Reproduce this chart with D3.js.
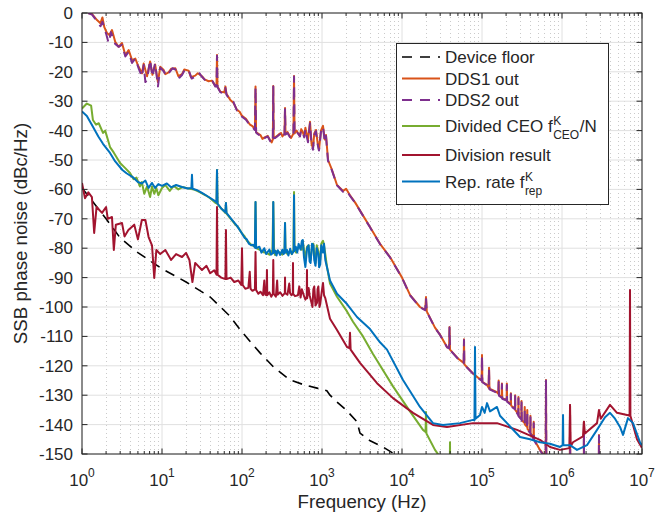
<!DOCTYPE html>
<html>
<head>
<meta charset="utf-8">
<script src="https://cdn.jsdelivr.net/npm/d3@7"></script>
<style>
	body { margin: 0; background: #fff; }
	text { font-family: "Liberation Sans", Arial, Helvetica, sans-serif; fill: #262626; }
</style>
</head>
<body>
<div class="container"></div>
<script>
// axis ranges and ticks
var freqDomain = [1, 1e7];
var dbDomain = [-150, 0];
var decadeTicks = [1, 10, 100, 1e3, 1e4, 1e5, 1e6, 1e7];
var decadeLabels = ["0", "1", "2", "3", "4", "5", "6", "7"];
var dbTicks = [-150, -140, -130, -120, -110, -100, -90, -80, -70, -60, -50, -40, -30, -20, -10, 0];

// series, [frequency Hz, dBc/Hz]
var deviceFloor = [[1,-59.5],[2,-70],[3,-76.5],[5,-81.5],[10,-87],[20,-91.5],[40,-96.6],[70,-103],[100,-108.5],[168,-115.6],[250,-120.5],[398,-124.8],[600,-126.5],[866,-127.6],[1000,-128],[1150,-128.5],[1259,-130],[1540,-132.3],[2000,-135],[2738,-139],[2985,-142.9],[4000,-145.5],[5788,-147.6],[7718,-149.7],[10000,-152]];

var dds1 = [[1.19,0],[1.33,-0.3],[1.54,-2.4],[1.7,-3.5],[1.8,-1.5],[1.9,-4.8],[2.05,-6.8],[2.2,-7.5],[2.37,-5.8],[2.6,-9.8],[2.87,-11.5],[3.16,-10.2],[3.48,-14.3],[3.83,-12.6],[4.22,-16],[4.64,-15.5],[5.1,-18.3],[5.62,-20.5],[5.9,-17.2],[6.5,-21.5],[7.1,-16.5],[7.6,-21],[8.2,-17.5],[8.9,-23.5],[9.5,-18.3],[10.5,-19.4],[11,-20.8],[12.1,-20.2],[13,-19],[14.7,-18.8],[16,-21.5],[17.8,-20.8],[19,-19.2],[21.5,-19.6],[23,-21.8],[26,-21.3],[28,-20.5],[31.6,-21.5],[34,-22.6],[38.3,-23.2],[42,-23],[46.4,-24.8],[48,-24.8],[48.7,-14.3],[49.4,-25],[53.7,-26.8],[60,-27],[62,-25],[64,-27.5],[71.5,-29.6],[78,-30.5],[86.6,-33],[93,-33.5],[100,-35],[112,-36],[126,-38],[135,-38.5],[145,-39.5],[147.6,-25],[150,-40.5],[154,-40.8],[170,-41.5],[180,-42.8],[194,-42.2],[210,-41.8],[224,-43.2],[235,-44],[243,-43],[246,-24.8],[249,-42.5],[260,-42.3],[275,-41.8],[290,-41.2],[309,-40.8],[320,-42],[340,-41],[345,-32.3],[350,-41.2],[370,-40.5],[389,-41.5],[410,-42.5],[440,-41],[447,-21.4],[454,-41],[480,-40],[501,-40.8],[530,-41.8],[550,-39.5],[575,-40.5],[600,-42],[620,-39],[668,-43.2],[708,-37],[740,-44.5],[771,-46],[800,-41],[841,-39.8],[880,-44],[917,-46.6],[970,-40],[1029,-38.4],[1080,-43],[1122,-41.5],[1189,-50],[1334,-53.4],[1540,-58.5],[1833,-60.5],[2000,-59.8],[2239,-62],[2600,-64.5],[3981,-72.8],[5309,-78.5],[7079,-83],[10000,-90],[12589,-95.9],[16788,-100],[19500,-101],[19953,-96.6],[20400,-101.5],[25852,-107],[30000,-109.5],[36500,-113.6],[38800,-114],[39264,-106.8],[39800,-114.5],[50000,-117.5],[59000,-119],[59566,-111],[60200,-119.5],[64938,-120.5],[80000,-123],[99000,-125],[100000,-116.3],[101000,-125.5],[115478,-126.5],[121000,-127.5],[122400,-120.7],[124000,-127.8],[154000,-129],[160000,-129.5],[161500,-125],[163000,-130],[176000,-130.5],[177500,-126],[179000,-131],[203000,-131.6],[204500,-126],[206000,-132],[228000,-133],[229500,-129.3],[231000,-133.5],[258000,-134.5],[259500,-130],[261000,-135],[284000,-136.5],[285500,-130.6],[287000,-137],[310000,-138],[312000,-132],[314000,-138.5],[340000,-139.5],[342000,-134],[344000,-140],[365000,-140.8],[368000,-135],[371000,-141.5],[400000,-142.5],[403000,-137],[406000,-143],[440000,-144.5],[443000,-139],[446000,-145],[480000,-146.5],[531000,-148.6],[600000,-150.5],[625000,-151],[631000,-124.8],[637000,-151.5],[700000,-153],[1e6,-156],[1.25e6,-157],[1.26e6,-133.3],[1.27e6,-157],[1.87e6,-158],[1.88e6,-139],[1.89e6,-158],[2.88e6,-158],[2.9e6,-143.5],[2.92e6,-158],[1e7,-160]];

var dds2 = [[1.19,0],[1.33,-0.5],[1.54,-2.8],[1.7,-4.5],[1.8,-3],[2.0,-7],[2.15,-10.2],[2.3,-6.5],[2.6,-10.5],[2.87,-11.5],[3.16,-10.8],[3.48,-14.8],[3.83,-13.2],[4.22,-17],[4.64,-15.5],[5.1,-18.8],[5.62,-21.7],[5.9,-17.7],[6.2,-23.5],[6.5,-22.8],[7.1,-16],[7.6,-21.7],[8.2,-17.1],[8.9,-25],[9.5,-18.6],[10.5,-19.8],[11.3,-21.5],[12.1,-20.5],[13.5,-18.8],[14.7,-19.2],[16.5,-22],[17.8,-21.1],[19.5,-19],[21.5,-19.4],[23.5,-22.3],[26,-21.7],[29,-20.3],[31.6,-21.7],[35,-23],[38.3,-23.4],[43,-23.2],[46.4,-25],[48,-25],[48.7,-14.5],[49.4,-25.2],[53.7,-27],[60,-27.2],[62,-25.5],[64,-27.8],[71.5,-29.8],[78,-30.2],[86.6,-33.2],[93,-33.8],[100,-35.3],[112,-36.3],[126,-38.2],[135,-38.8],[145,-39.8],[147.6,-25.3],[150,-40.6],[154,-41],[170,-41.8],[180,-43],[194,-42.5],[210,-42],[224,-43.5],[235,-44.3],[243,-43.2],[246,-25],[249,-42.6],[260,-42.5],[275,-42],[290,-41.5],[309,-41],[320,-42.3],[340,-41.2],[345,-32.5],[350,-41.3],[370,-40.8],[389,-41.8],[410,-42.8],[440,-41.2],[447,-21.6],[454,-41.2],[480,-40.3],[501,-41],[530,-42],[550,-39.8],[575,-40.8],[600,-42.3],[620,-39.5],[668,-44],[708,-37.5],[740,-45],[771,-46.5],[800,-41.5],[841,-40.2],[880,-44.5],[917,-46.8],[970,-40.5],[1029,-38.6],[1080,-43.5],[1122,-41.8],[1189,-50.3],[1334,-53.6],[1540,-58.6],[1833,-60.8],[2000,-60.2],[2239,-62.2],[2600,-64.6],[3981,-72.9],[5309,-78.6],[7079,-83.1],[10000,-90.1],[12589,-96],[16788,-100.1],[19500,-101.1],[19953,-97],[20400,-101.6],[25852,-107.1],[30000,-109.6],[36500,-113.7],[38800,-114.1],[39264,-107],[39800,-114.6],[50000,-117.6],[59000,-119.1],[59566,-111.2],[60200,-119.6],[64938,-120.6],[80000,-123.1],[99000,-125.1],[100000,-116.5],[101000,-125.6],[115478,-126.6],[121000,-127.6],[122400,-121],[124000,-128],[154000,-129.2],[160000,-129.8],[161500,-125.5],[163000,-130.2],[176000,-130.8],[177500,-126.3],[179000,-131.2],[203000,-131.8],[204500,-126.5],[206000,-132.2],[228000,-133.2],[229500,-129.6],[231000,-133.8],[258000,-134.8],[259500,-130.3],[261000,-135.2],[284000,-136.8],[285500,-131],[287000,-137.2],[310000,-138.2],[312000,-132.5],[314000,-138.8],[340000,-139.8],[342000,-134.5],[344000,-140.2],[365000,-141],[368000,-135.5],[371000,-141.8],[400000,-142.8],[403000,-137.5],[406000,-143.2],[440000,-144.8],[443000,-139.5],[446000,-145.2],[480000,-146.8],[531000,-148.8],[600000,-150.8],[625000,-151.2],[631000,-125],[637000,-151.8],[700000,-153],[1e6,-156],[1.25e6,-157],[1.26e6,-133.5],[1.27e6,-157],[1.87e6,-158],[1.88e6,-139.2],[1.89e6,-158],[2.88e6,-158],[2.9e6,-143.8],[2.92e6,-158],[1e7,-160]];

var dividedCeo = [[1,-32.5],[1.15,-30.8],[1.3,-31.5],[1.37,-36.4],[1.5,-38],[1.62,-37.5],[1.83,-40.8],[1.95,-40],[2.24,-45.6],[2.5,-47.5],[2.99,-51],[3.4,-52.5],[3.98,-54.4],[4.4,-56.5],[4.8,-56],[5.3,-59],[5.6,-57.5],[6,-61.5],[6.5,-59],[7.1,-62.6],[7.5,-59],[8,-61.5],[8.5,-59.5],[9,-62],[10,-59.5],[11,-58.5],[12.5,-60.5],[14,-58.8],[16,-60],[18,-59.2],[20,-59.5],[25,-60],[30,-61],[35,-62],[40,-63],[46,-64.5],[48,-64.8],[48.7,-53.4],[49.5,-65],[55,-66.5],[62,-68],[63,-64.6],[64,-68.2],[70,-69.5],[80,-71.5],[90,-73],[100,-75],[108,-76],[115,-77.5],[122,-78],[130,-78.8],[138,-79.2],[145,-79.5],[147.6,-64.3],[150,-80],[165,-80.5],[175,-80.8],[190,-81.5],[200,-81.5],[220,-82.2],[230,-81],[240,-81.5],[246,-64.3],[252,-81.5],[260,-82.3],[275,-81],[300,-81.5],[320,-82.2],[340,-81.2],[345,-71.4],[350,-81.3],[370,-82],[400,-81],[420,-82],[440,-80.5],[447,-60.9],[454,-80.5],[475,-81.5],[500,-80],[530,-79.5],[560,-80.5],[575,-77.5],[600,-81],[620,-84],[650,-79.5],[680,-79],[700,-83],[720,-84],[750,-80],[780,-78.5],[800,-82],[830,-85],[860,-79],[900,-81],[920,-84],[950,-84],[980,-78.5],[1000,-78],[1029,-77.5],[1060,-79],[1100,-82],[1150,-86],[1259,-92],[1540,-96.5],[2054,-101.5],[2441,-105],[3254,-110],[4340,-116],[7718,-127],[12589,-135.5],[18302,-141.8],[19700,-142.5],[19953,-135.7],[20200,-143],[25852,-148.6],[31623,-152],[39500,-158],[39811,-146],[40100,-158],[50000,-162]];

var divisionResult = [[1,-57.8],[1.09,-63],[1.2,-61],[1.33,-62.6],[1.42,-74.8],[1.52,-66],[1.78,-68],[2,-66],[2.1,-70],[2.37,-69.4],[2.5,-80.6],[2.65,-72],[3.16,-71.4],[3.4,-76],[3.8,-73.8],[4.5,-72],[5,-77],[5.6,-70.4],[6.2,-70.4],[6.8,-76.2],[7.5,-79],[8,-90.1],[8.5,-80.6],[9.5,-82],[11,-80.6],[13,-84],[15,-82],[17.8,-83],[20,-81.6],[22,-84],[24,-91.5],[26,-85],[31.6,-87.4],[36,-86],[40,-88.5],[45,-87.5],[48,-89],[48.7,-66],[49.5,-89],[55,-90],[62,-90.5],[63,-73.8],[64,-90.5],[72,-90],[80,-91.5],[90,-91],[98,-92.5],[100,-80],[102,-92.5],[110,-93.8],[120,-93.5],[125,-88],[128,-93.8],[135,-94.5],[145,-94],[147.6,-81.3],[150,-94.2],[160,-95.5],[170,-94.8],[183,-96],[190,-91],[195,-95.8],[203,-96],[205,-87.4],[207,-96],[220,-95],[232,-96.5],[243,-95.5],[246,-84],[249,-95.5],[265,-96.5],[275,-91],[280,-95.8],[300,-95],[320,-96.2],[343,-95.3],[345,-90],[347,-95.3],[370,-95.8],[390,-92],[398,-95.2],[415,-96],[432,-95.5],[434,-85],[436,-95.5],[460,-96.3],[500,-96],[520,-93],[540,-96.8],[560,-94],[600,-96.5],[620,-97.5],[645,-96.6],[649,-87.4],[653,-97],[680,-93.5],[700,-96],[730,-98],[760,-100],[780,-94],[800,-93],[830,-99.5],[866,-98.6],[880,-94],[900,-93],[930,-100],[950,-99],[990,-95],[1029,-91.8],[1060,-96],[1100,-97],[1259,-104],[1540,-107.8],[2054,-113.6],[2200,-114],[2239,-108.8],[2280,-114.5],[2985,-119],[4870,-125.9],[7718,-131],[13725,-136],[24400,-140.1],[36500,-140.8],[77180,-139.5],[154000,-139.5],[274000,-141.8],[531000,-145.2],[708000,-147.6],[944000,-148.6],[1.24e6,-148],[1.26e6,-133.3],[1.28e6,-147.5],[1.37e6,-146],[1.83e6,-144],[1.88e6,-139],[1.93e6,-143],[2.74e6,-139.5],[2.9e6,-135],[3.05e6,-138],[3.98e6,-133.3],[4.87e6,-136],[6.49e6,-136.7],[7e6,-137],[7.08e6,-94.2],[7.16e6,-137],[8.66e6,-145],[1e7,-148]];

var repRate = [[1,-33.5],[1.15,-35],[1.37,-38.7],[1.6,-42],[1.83,-44.5],[2.24,-47.6],[2.6,-50.5],[3.2,-53.4],[3.6,-54.5],[4.3,-55.8],[5,-57.5],[5.6,-58],[6.2,-57],[6.8,-59.5],[7.5,-57.8],[8.2,-59.5],[9,-58.2],[10,-58.8],[11.5,-58],[13,-59.3],[15,-58.5],[17.8,-59.2],[21,-59.7],[23.3,-59.5],[23.7,-55],[24.1,-59.8],[27,-60.2],[31.6,-61.2],[38,-62.5],[46,-64],[48,-64.5],[48.7,-53.4],[49.5,-64.8],[55,-66.5],[62,-67.8],[63,-64.6],[64,-68],[75,-70.4],[87,-72.5],[100,-75],[108,-76.5],[115,-77],[122,-78.5],[130,-79],[138,-78.8],[145,-79.8],[147.6,-64.3],[150,-80],[165,-79.5],[175,-81.5],[190,-80],[200,-82],[220,-80.5],[230,-82.2],[243,-81.6],[246,-64.3],[249,-81.6],[260,-80.8],[270,-82.5],[280,-80.7],[300,-82.3],[320,-80.5],[330,-82],[340,-81.5],[345,-71.4],[350,-81.5],[365,-80.6],[380,-82.5],[400,-80.2],[420,-82],[443,-81],[447,-62],[451,-81],[470,-79.5],[490,-81.5],[510,-78.5],[540,-80.5],[560,-77.5],[575,-77.2],[595,-83],[620,-86.4],[650,-80],[680,-79],[700,-84.5],[720,-85],[750,-78.5],[780,-79],[800,-84],[830,-86],[860,-80],[900,-82],[920,-86.5],[950,-85.5],[980,-79],[1000,-80],[1029,-81.5],[1060,-78.5],[1100,-84],[1259,-91],[1540,-95.5],[2054,-99],[2738,-103.4],[3981,-107.5],[5309,-112],[6494,-114.5],[10290,-124.8],[16788,-134],[24400,-139.5],[32540,-140.1],[53090,-139.5],[77180,-138.4],[80500,-138.5],[81750,-113.6],[83000,-138],[94400,-136.7],[100000,-134],[108000,-136],[115500,-132.7],[125900,-135.5],[154000,-134],[167900,-137],[205400,-139.5],[298500,-144.2],[398100,-145],[531000,-146],[708000,-146.5],[944000,-147.6],[1.02e6,-147],[1.03e6,-136.7],[1.04e6,-147],[1.26e6,-147],[1.54e6,-148.6],[2.05e6,-147],[2.74e6,-141.8],[3.45e6,-137.5],[3.98e6,-136],[4.6e6,-138],[5.31e6,-140.8],[5.79e6,-143.5],[6.68e6,-137.8],[7.72e6,-139.5],[9.44e6,-146],[1e7,-147]];

var seriesNames = ["Device floor", "DDS1 out", "DDS2 out", "Divided CEO", "Division result", "Rep. rate"];
var seriesColors = ["#000000", "#D95319", "#7E2F8E", "#77AC30", "#A2142F", "#0072BD"];
var seriesData = [deviceFloor, dds1, dds2, dividedCeo, divisionResult, repRate];
var seriesDashed = [true, false, true, false, false, false];

var charter = function () {
	var W = 658, H = 517;
	var m = { left: 82, right: 16, top: 13, bottom: 63 };
	var pw = W - m.left - m.right, ph = H - m.top - m.bottom;

	var init = function () {
		var paper = d3.select('.container').append("svg")
			.attr("width", W)
			.attr("height", H);

		var x = d3.scaleLog().domain(freqDomain).range([m.left, m.left + pw]);
		var y = d3.scaleLinear().domain(dbDomain).range([m.top + ph, m.top]);

		var minorTicks = [];
		decadeTicks.slice(0, -1).forEach(function (d) {
			for (var k = 2; k < 10; k++) minorTicks.push(d * k);
		});

		// grid
		var grid = paper.append("g");
		grid.selectAll(".mg").data(minorTicks).enter().append("line")
			.attr("x1", function (d) { return Math.round(x(d)) + 0.5; })
			.attr("x2", function (d) { return Math.round(x(d)) + 0.5; })
			.attr("y1", m.top).attr("y2", m.top + ph)
			.attr("stroke", "#bdbdbd").attr("stroke-width", 0.8)
			.attr("stroke-dasharray", "1,3");
		grid.selectAll(".xg").data(decadeTicks).enter().append("line")
			.attr("x1", function (d) { return x(d); })
			.attr("x2", function (d) { return x(d); })
			.attr("y1", m.top).attr("y2", m.top + ph)
			.attr("stroke", "#e0e0e0").attr("stroke-width", 1);
		grid.selectAll(".yg").data(dbTicks).enter().append("line")
			.attr("x1", m.left).attr("x2", m.left + pw)
			.attr("y1", function (d) { return y(d); })
			.attr("y2", function (d) { return y(d); })
			.attr("stroke", "#e0e0e0").attr("stroke-width", 1);

		// curves
		paper.append("clipPath").attr("id", "plotclip")
			.append("rect").attr("x", m.left).attr("y", m.top).attr("width", pw).attr("height", ph);

		var line = d3.line()
			.x(function (d) { return x(d[0]); })
			.y(function (d) { return y(d[1]); });

		paper.append("g").attr("clip-path", "url(#plotclip)")
			.selectAll("path").data(seriesData).enter().append("path")
			.attr("d", line)
			.attr("fill", "none")
			.attr("stroke", function (d, i) { return seriesColors[i]; })
			.attr("stroke-width", function (d, i) { return i == 0 ? 1.6 : 2; })
			.attr("stroke-linejoin", "round")
			.attr("stroke-dasharray", function (d, i) { return seriesDashed[i] ? "10,7" : null; });

		// box and ticks
		var ax = paper.append("g").attr("stroke", "#262626").attr("stroke-width", 1);
		ax.append("rect").attr("x", m.left).attr("y", m.top).attr("width", pw).attr("height", ph)
			.attr("fill", "none");
		[m.top + ph, m.top].forEach(function (yy, s) {
			var dir = s == 0 ? -1 : 1;
			ax.selectAll(null).data(decadeTicks).enter().append("line")
				.attr("x1", function (d) { return x(d); }).attr("x2", function (d) { return x(d); })
				.attr("y1", yy).attr("y2", yy + dir * 5.5);
			ax.selectAll(null).data(minorTicks).enter().append("line")
				.attr("x1", function (d) { return x(d); }).attr("x2", function (d) { return x(d); })
				.attr("y1", yy).attr("y2", yy + dir * 3);
		});
		[m.left, m.left + pw].forEach(function (xx, s) {
			var dir = s == 0 ? 1 : -1;
			ax.selectAll(null).data(dbTicks).enter().append("line")
				.attr("x1", xx).attr("x2", xx + dir * 5.5)
				.attr("y1", function (d) { return y(d); }).attr("y2", function (d) { return y(d); });
		});

		// tick labels
		paper.selectAll(".yl").data(dbTicks).enter().append("text")
			.attr("x", m.left - 9)
			.attr("y", function (d) { return y(d) + 6; })
			.attr("text-anchor", "end")
			.attr("font-size", 17)
			.text(function (d) { return d < 0 ? "-" + Math.abs(d) : d; });

		var xl = paper.selectAll(".xl").data(decadeTicks).enter().append("text")
			.attr("x", function (d) { return x(d); })
			.attr("y", m.top + ph + 32)
			.attr("text-anchor", "middle")
			.attr("font-size", 17);
		xl.append("tspan").text("10");
		xl.append("tspan").attr("font-size", 12).attr("dy", -9)
			.text(function (d, i) { return decadeLabels[i]; });

		paper.append("text")
			.attr("x", m.left + pw / 2).attr("y", m.top + ph + 54)
			.attr("text-anchor", "middle").attr("font-size", 18.7)
			.text("Frequency (Hz)");
		paper.append("text")
			.attr("transform", "translate(27," + (m.top + ph / 2) + ") rotate(-90)")
			.attr("text-anchor", "middle").attr("font-size", 18.7)
			.text("SSB phase noise (dBc/Hz)");

		// legend
		var lg = paper.append("g");
		lg.append("rect").attr("x", 396.5).attr("y", 43.5).attr("width", 212).attr("height", 161)
			.attr("fill", "#fff").attr("stroke", "#262626").attr("stroke-width", 1);
		var rows = [57, 78.5, 100, 126, 155, 181.5];
		seriesNames.forEach(function (name, i) {
			lg.append("line")
				.attr("x1", 402).attr("x2", 440)
				.attr("y1", rows[i]).attr("y2", rows[i])
				.attr("stroke", seriesColors[i]).attr("stroke-width", i == 0 ? 1.6 : 2)
				.attr("stroke-dasharray", seriesDashed[i] ? "10,8" : null);
			var t = lg.append("text").attr("x", 445).attr("y", rows[i] + 6).attr("font-size", 17);
			if (i == 3 || i == 5) {
				t.text(i == 3 ? "Divided CEO f" : "Rep. rate f");
				var w = t.node().getComputedTextLength();
				var sub = i == 3 ? "CEO" : "rep";
				lg.append("text").attr("x", 445 + w + 0.5).attr("y", rows[i] - 1).attr("font-size", 12).text("K");
				var s = lg.append("text").attr("x", 445 + w + 0.5).attr("y", rows[i] + 13).attr("font-size", 12).text(sub);
				if (i == 3) {
					var sw = s.node().getComputedTextLength();
					lg.append("text").attr("x", 445 + w + sw + 1).attr("y", rows[i] + 6).attr("font-size", 17).text("/N");
				}
			} else {
				t.text(name);
			}
		});
	};

	return Object.freeze({ init: init });
};

var c = charter();
c.init();
</script>
</body>
</html>
